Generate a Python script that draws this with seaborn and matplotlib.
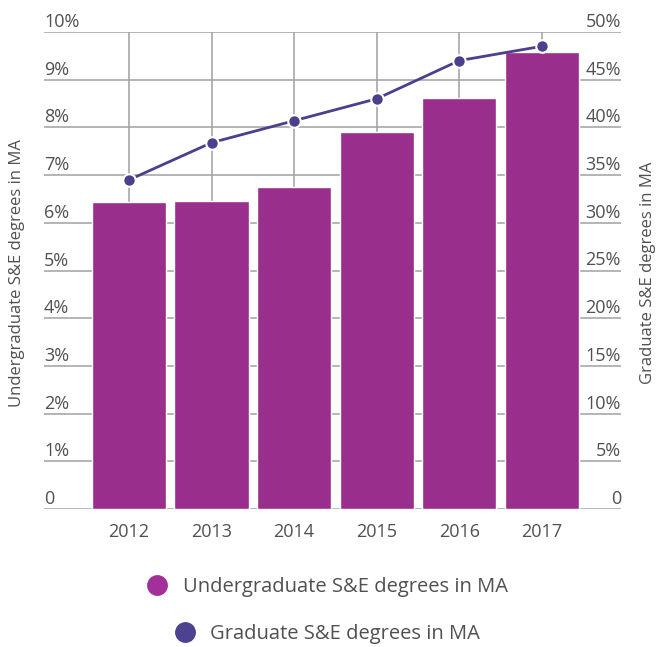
import numpy as np
import matplotlib
matplotlib.use("Agg")
import matplotlib.pyplot as plt
import matplotlib.transforms as mtransforms
from matplotlib.lines import Line2D
import seaborn as sns

# data
years = ["2012", "2013", "2014", "2015", "2016", "2017"]
undergrad = [6.44, 6.45, 6.76, 7.91, 8.61, 9.59]   # % (left axis)
graduate = [34.5, 38.4, 40.7, 43.0, 47.0, 48.5]    # % (right axis)
left_ticks = list(range(0, 11))
right_ticks = list(range(0, 51, 5))

bar_color = "#992e8c"
line_color = "#4b3f8e"
text_color = "#505050"
grid_color = "#a0a0a0"

sns.set_theme(style="white")
plt.rcParams["font.family"] = ["Open Sans", "DejaVu Sans"]

W, H = 656, 647
fig = plt.figure(figsize=(W / 100, H / 100), dpi=100)
ax = fig.add_axes([44 / W, 1 - 509 / H, (621 - 44) / W, (509 - 32) / H])

sns.barplot(x=years, y=undergrad, color=bar_color, saturation=1, width=0.9,
            ax=ax, zorder=2)

ax.set_ylim(0, 10)
ax.set_yticks(left_ticks)
ax.set_yticklabels([])
ax.tick_params(axis="y", length=0)
ax.tick_params(axis="x", length=3, width=1, color=grid_color, pad=7,
               labelsize=13, labelcolor=text_color)
ax.grid(True, color=grid_color, lw=1.1)
ax.set_axisbelow(True)
ax.set_xlabel("")
ax.set_ylabel("")
for s in ax.spines.values():
    s.set_visible(False)

# left tick labels sit above the gridlines
trans = mtransforms.blended_transform_factory(ax.transAxes, ax.transData)
for v in left_ticks:
    lab = "0" if v == 0 else f"{v}%"
    ax.annotate(lab, (0, v), xycoords=trans, xytext=(0, 5),
                textcoords="offset pixels", ha="left", va="baseline",
                fontsize=13, color=text_color)

ax2 = ax.twinx()
sns.lineplot(x=np.arange(len(years)), y=graduate, color=line_color, lw=2,
             marker="o", markersize=9, markeredgecolor="white",
             markeredgewidth=1.5, ax=ax2, zorder=3)
ax2.set_ylim(0, 50)
ax2.set_yticks([])
ax2.grid(False)
for s in ax2.spines.values():
    s.set_visible(False)

trans2 = mtransforms.blended_transform_factory(ax2.transAxes, ax2.transData)
for v in right_ticks:
    lab = "0" if v == 0 else f"{v}%"
    ax2.annotate(lab, (1, v), xycoords=trans2, xytext=(0, 5),
                 textcoords="offset pixels", ha="right", va="baseline",
                 fontsize=13, color=text_color)

ax.set_xlim(-1.03, 5.96)

fig.text(17 / W, 1 - 273 / H, "Undergraduate S&E degrees in MA", rotation=90,
         ha="center", va="center", fontsize=12, color=text_color)
fig.text(648 / W, 1 - 273 / H, "Graduate S&E degrees in MA", rotation=90,
         ha="center", va="center", fontsize=12, color=text_color)

# legend: two centred rows
legend_rows = [("Undergraduate S&E degrees in MA", "#a3309a", 587),
               ("Graduate S&E degrees in MA", "#4d4290", 634)]
for label, col, ypix in legend_rows:
    h = Line2D([], [], marker="o", ls="", markersize=14,
               markerfacecolor=col, markeredgecolor=col)
    leg = fig.legend([h], [label], loc="center",
                     bbox_to_anchor=(327 / W, 1 - ypix / H), frameon=False,
                     fontsize=14.5, handlelength=1.1, handletextpad=0.7,
                     borderpad=0)
    for t in leg.get_texts():
        t.set_color(text_color)

fig.savefig("out.png", dpi=100)
